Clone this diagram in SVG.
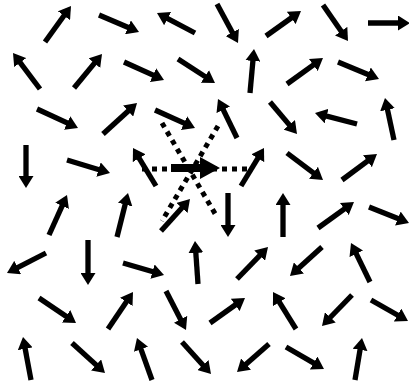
<svg xmlns="http://www.w3.org/2000/svg" width="409" height="385" viewBox="0 0 409 385">
<defs>
<marker id="h" markerUnits="userSpaceOnUse" markerWidth="12" markerHeight="15" viewBox="0 0 12 15" refX="12" refY="7.5" orient="auto">
<path d="M0,0 L12,7.5 L0,15 Z" fill="#000"/>
</marker>
<style>
.a line{stroke:#000;stroke-width:5.3;stroke-dasharray:88 100;marker-end:url(#h);fill:none}
.d{stroke:#000;stroke-width:5;stroke-dasharray:5 5;fill:none}
</style>
</defs>
<rect width="409" height="385" fill="#fff"/>
<g id="field" class="a">
<line pathLength="100" x1="45" y1="42" x2="71" y2="6"/>
<line pathLength="100" x1="99" y1="15" x2="139" y2="32"/>
<line pathLength="100" x1="195" y1="33" x2="157" y2="13"/>
<line pathLength="100" x1="217" y1="4" x2="238" y2="43"/>
<line pathLength="100" x1="266" y1="36" x2="301" y2="11"/>
<line pathLength="100" x1="323" y1="5" x2="348" y2="41"/>
<line pathLength="100" x1="368" y1="23" x2="410" y2="23"/>
<line pathLength="100" x1="40" y1="89" x2="13" y2="53"/>
<line pathLength="100" x1="74" y1="88" x2="102" y2="54"/>
<line pathLength="100" x1="124" y1="62" x2="164" y2="80"/>
<line pathLength="100" x1="178" y1="59" x2="215" y2="83"/>
<line pathLength="100" x1="250" y1="93" x2="254" y2="49"/>
<line pathLength="100" x1="287" y1="84" x2="323" y2="58"/>
<line pathLength="100" x1="338" y1="62" x2="379" y2="79"/>
<line pathLength="100" x1="37" y1="109" x2="78" y2="128"/>
<line pathLength="100" x1="103" y1="134" x2="137" y2="103"/>
<line pathLength="100" x1="155" y1="110" x2="195" y2="128"/>
<line pathLength="100" x1="237" y1="138" x2="218" y2="99"/>
<line pathLength="100" x1="270" y1="102" x2="297" y2="134"/>
<line pathLength="100" x1="357" y1="124" x2="315" y2="113"/>
<line pathLength="100" x1="394" y1="140" x2="385" y2="98"/>
<line pathLength="100" x1="26" y1="145" x2="26" y2="188"/>
<line pathLength="100" x1="67" y1="160" x2="110" y2="173"/>
<line pathLength="100" x1="156" y1="186" x2="133" y2="148"/>
<line pathLength="100" x1="241" y1="186" x2="264" y2="148"/>
<line pathLength="100" x1="287" y1="153" x2="323" y2="180"/>
<line pathLength="100" x1="342" y1="180" x2="377" y2="154"/>
<line pathLength="100" x1="49" y1="235" x2="67" y2="195"/>
<line pathLength="100" x1="117" y1="237" x2="128" y2="193"/>
<line pathLength="100" x1="161" y1="231" x2="190" y2="199"/>
<line pathLength="100" x1="228" y1="193" x2="228" y2="237"/>
<line pathLength="100" x1="283" y1="237" x2="283" y2="193"/>
<line pathLength="100" x1="318" y1="228" x2="354" y2="202"/>
<line pathLength="100" x1="369" y1="207" x2="409" y2="223"/>
<line pathLength="100" x1="46" y1="253" x2="7" y2="273"/>
<line pathLength="100" x1="88" y1="240" x2="88" y2="285"/>
<line pathLength="100" x1="123" y1="263" x2="164" y2="275"/>
<line pathLength="100" x1="198" y1="284" x2="195" y2="241"/>
<line pathLength="100" x1="237" y1="279" x2="268" y2="247"/>
<line pathLength="100" x1="322" y1="247" x2="290" y2="276"/>
<line pathLength="100" x1="370" y1="282" x2="351" y2="243"/>
<line pathLength="100" x1="39" y1="298" x2="76" y2="323"/>
<line pathLength="100" x1="108" y1="329" x2="133" y2="292"/>
<line pathLength="100" x1="166" y1="291" x2="186" y2="330"/>
<line pathLength="100" x1="210" y1="323" x2="245" y2="298"/>
<line pathLength="100" x1="296" y1="329" x2="273" y2="292"/>
<line pathLength="100" x1="352" y1="295" x2="322" y2="326"/>
<line pathLength="100" x1="371" y1="300" x2="408" y2="321"/>
<line pathLength="100" x1="31" y1="380" x2="23" y2="337"/>
<line pathLength="100" x1="72" y1="343" x2="105" y2="373"/>
<line pathLength="100" x1="152" y1="380" x2="137" y2="338"/>
<line pathLength="100" x1="182" y1="342" x2="211" y2="374"/>
<line pathLength="100" x1="269" y1="344" x2="237" y2="372"/>
<line pathLength="100" x1="286" y1="347" x2="324" y2="369"/>
<line pathLength="100" x1="355" y1="380" x2="362" y2="338"/>
</g>
<g id="center">
<line class="d" x1="142" y1="169" x2="247" y2="169"/>
<line class="d" x1="162" y1="123" x2="217" y2="217"/>
<line class="d" x1="218" y1="126" x2="162" y2="221"/>
<path d="M171,164 L200,164 L200,157 L220,168 L200,179 L200,172 L171,172 Z" fill="#000"/>
</g>
</svg>
